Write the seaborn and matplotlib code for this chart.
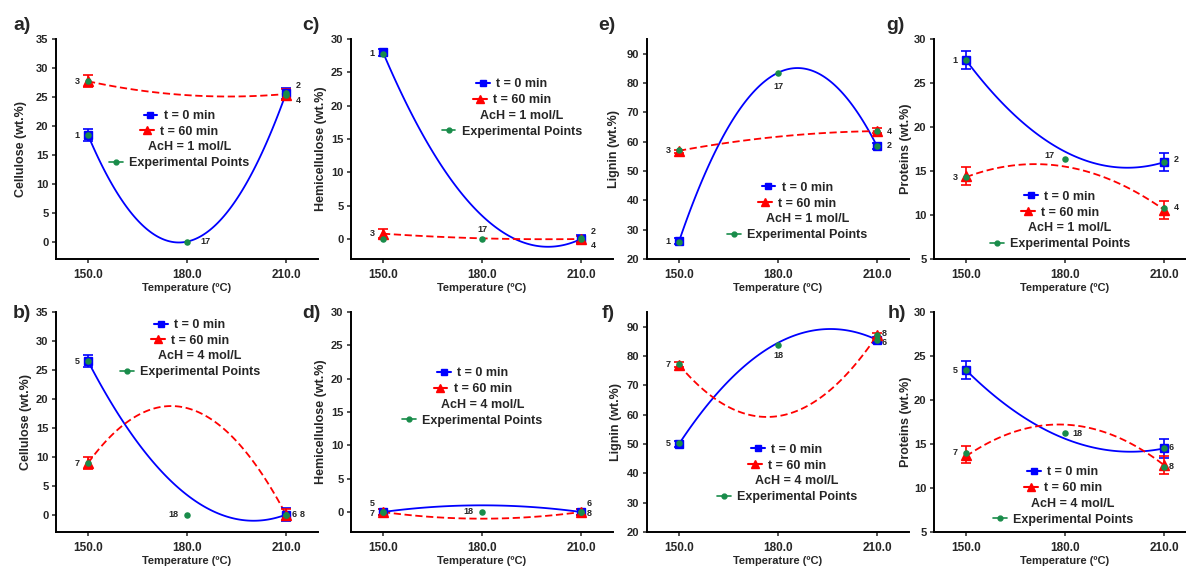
import numpy as np
import pandas as pd
import matplotlib
matplotlib.use("Agg")
import matplotlib.pyplot as plt
import seaborn as sns
from matplotlib.lines import Line2D
from matplotlib.ticker import StrMethodFormatter

sns.set_style("ticks")
plt.rcParams['font.family'] = ['Liberation Sans', 'DejaVu Sans']
plt.rcParams['font.weight'] = 'bold'
plt.rcParams['axes.labelweight'] = 'bold'
plt.rcParams['axes.linewidth'] = 1.4
plt.rcParams['axes.edgecolor'] = 'black'

# ---------------- data ----------------
temps = [150, 180, 210]          # temperatures of the model curves
end_temps = [150, 210]           # temperatures of the t = 0 / t = 60 runs
exp_temps = [150, 150, 180, 210, 210]

# a) Cellulose, AcH = 1 mol/L
a_curve_t0 = [18.4, 0.0, 25.6]
a_curve_t60 = [27.7, 25.3, 25.5]
a_mean_t0 = [18.4, 25.6]
a_err_t0 = [1.0, 1.0]
a_mean_t60 = [27.7, 25.4]
a_err_t60 = [1.05, 1.0]
a_exp = [18.4, 27.7, 0.0, 25.6, 25.4]
a_lab = ['1', '3', '17', '2', '4']

# b) Cellulose, AcH = 4 mol/L
b_curve_t0 = [26.5, 3.4, 0.0]
b_curve_t60 = [8.9, 18.4, 0.0]
b_mean_t0 = [26.5, 0.0]
b_err_t0 = [1.0, 1.1]
b_mean_t60 = [8.9, 0.0]
b_err_t60 = [1.0, 1.0]
b_exp = [26.5, 8.9, 0.0, 0.0, 0.0]
b_lab = ['5', '7', '18', '6', '8']

# c) Hemicellulose, AcH = 1 mol/L
c_curve_t0 = [28.0, 3.5, 0.0]
c_curve_t60 = [0.8, 0.1, 0.0]
c_mean_t0 = [28.0, 0.0]
c_err_t0 = [0.5, 0.6]
c_mean_t60 = [0.8, 0.0]
c_err_t60 = [0.7, 0.5]
c_exp = [27.8, 0.0, 0.0, 0.1, 0.0]
c_lab = ['1', '3', '17', '2', '4']

# d) Hemicellulose, AcH = 4 mol/L
d_curve_t0 = [0.0, 1.0, 0.0]
d_curve_t60 = [0.0, -1.0, 0.0]
d_mean_t0 = [0.0, 0.0]
d_err_t0 = [0.4, 0.4]
d_mean_t60 = [0.0, 0.0]
d_err_t60 = [0.4, 0.4]
d_exp = [0.0, 0.0, 0.0, 0.0, 0.0]
d_lab = ['5', '7', '18', '6', '8']

# e) Lignin, AcH = 1 mol/L
e_curve_t0 = [26.0, 83.5, 58.5]
e_curve_t60 = [56.9, 61.7, 63.6]
e_mean_t0 = [26.0, 58.5]
e_err_t0 = [1.0, 1.0]
e_mean_t60 = [56.8, 63.8]
e_err_t60 = [0.5, 0.8]
e_exp = [25.8, 57.0, 83.5, 63.6, 58.6]
e_lab = ['1', '3', '17', '4', '2']

# f) Lignin, AcH = 4 mol/L
f_curve_t0 = [50.0, 84.5, 85.5]
f_curve_t60 = [77.0, 59.5, 87.0]
f_mean_t0 = [50.0, 85.5]
f_err_t0 = [1.0, 1.0]
f_mean_t60 = [77.0, 87.0]
f_err_t60 = [0.8, 0.8]
f_exp = [50.2, 77.2, 83.8, 85.5, 87.3]
f_lab = ['5', '7', '18', '6', '8']

# g) Proteins, AcH = 1 mol/L
g_curve_t0 = [27.6, 17.2, 16.0]
g_curve_t60 = [14.3, 15.5, 10.6]
g_mean_t0 = [27.6, 16.0]
g_err_t0 = [1.05, 1.05]
g_mean_t60 = [14.4, 10.6]
g_err_t60 = [1.0, 1.0]
g_exp = [27.6, 14.3, 16.4, 16.0, 10.8]
g_lab = ['1', '3', '17', '2', '4']

# h) Proteins, AcH = 4 mol/L
h_curve_t0 = [23.4, 15.6, 14.5]
h_curve_t60 = [13.6, 17.2, 12.6]
h_mean_t0 = [23.4, 14.5]
h_err_t0 = [1.05, 1.05]
h_mean_t60 = [13.8, 12.6]
h_err_t60 = [1.0, 1.0]
h_exp = [23.4, 14.0, 16.2, 14.6, 12.4]
h_lab = ['5', '7', '18', '6', '8']

ylabels = {'cel': 'Cellulose (wt.%)', 'hem': 'Hemicellulose (wt.%)',
           'lig': 'Lignin (wt.%)', 'pro': 'Proteins (wt.%)'}
xlabel = 'Temperature (ºC)'
leg_labels = ['t = 0 min', 't = 60 min', None, 'Experimental Points']

panels = [
    dict(tag='a)', kind='cel', ach='AcH = 1 mol/L', c0=a_curve_t0, c60=a_curve_t60,
         m0=a_mean_t0, e0=a_err_t0, m60=a_mean_t60, e60=a_err_t60, exp=a_exp, lab=a_lab),
    dict(tag='c)', kind='hem', ach='AcH = 1 mol/L', c0=c_curve_t0, c60=c_curve_t60,
         m0=c_mean_t0, e0=c_err_t0, m60=c_mean_t60, e60=c_err_t60, exp=c_exp, lab=c_lab),
    dict(tag='e)', kind='lig', ach='AcH = 1 mol/L', c0=e_curve_t0, c60=e_curve_t60,
         m0=e_mean_t0, e0=e_err_t0, m60=e_mean_t60, e60=e_err_t60, exp=e_exp, lab=e_lab),
    dict(tag='g)', kind='pro', ach='AcH = 1 mol/L', c0=g_curve_t0, c60=g_curve_t60,
         m0=g_mean_t0, e0=g_err_t0, m60=g_mean_t60, e60=g_err_t60, exp=g_exp, lab=g_lab),
    dict(tag='b)', kind='cel', ach='AcH = 4 mol/L', c0=b_curve_t0, c60=b_curve_t60,
         m0=b_mean_t0, e0=b_err_t0, m60=b_mean_t60, e60=b_err_t60, exp=b_exp, lab=b_lab),
    dict(tag='d)', kind='hem', ach='AcH = 4 mol/L', c0=d_curve_t0, c60=d_curve_t60,
         m0=d_mean_t0, e0=d_err_t0, m60=d_mean_t60, e60=d_err_t60, exp=d_exp, lab=d_lab),
    dict(tag='f)', kind='lig', ach='AcH = 4 mol/L', c0=f_curve_t0, c60=f_curve_t60,
         m0=f_mean_t0, e0=f_err_t0, m60=f_mean_t60, e60=f_err_t60, exp=f_exp, lab=f_lab),
    dict(tag='h)', kind='pro', ach='AcH = 4 mol/L', c0=h_curve_t0, c60=h_curve_t60,
         m0=h_mean_t0, e0=h_err_t0, m60=h_mean_t60, e60=h_err_t60, exp=h_exp, lab=h_lab),
]

# ---------------- styles / layout ----------------
BLUE = '#0000ff'
RED = '#ff0000'
GREEN = '#198c4a'
ylims = {'cel': (-3, 35), 'hem': (-3, 30), 'lig': (20, 95), 'pro': (5, 30)}
yticks = {'cel': np.arange(0, 36, 5), 'hem': np.arange(0, 31, 5),
          'lig': np.arange(20, 91, 10), 'pro': np.arange(5, 31, 5)}

W, H = 1186, 569
col_left = [56, 351, 647, 934]
row_top = [39, 312]
ax_w, ax_h = 262, 220

# legend centre (axes fraction) per panel
leg_pos = {'a)': (0.47, 0.543), 'c)': (0.614, 0.686), 'e)': (0.573, 0.216), 'g)': (0.481, 0.175),
           'b)': (0.511, 0.834), 'd)': (0.464, 0.614), 'f)': (0.534, 0.266), 'h)': (0.492, 0.164)}
# ylabel anchor x (axes fraction)
ylab_x = {'a)': -0.111, 'c)': -0.092, 'e)': -0.103, 'g)': -0.084,
          'b)': -0.092, 'd)': -0.092, 'f)': -0.095, 'h)': -0.084}
# panel tag positions (pixels)
tag_pos = {'a)': (13, 25), 'c)': (302, 25), 'e)': (598, 25), 'g)': (886, 25),
           'b)': (13, 313), 'd)': (302, 313), 'f)': (602, 313), 'h)': (888, 313)}
# point-number offsets (points), in the order of the experimental points
lab_off = {
    'a)': [(-8, 0), (-8, 0), (13, 0), (9, 6), (9, -4)],
    'c)': [(-8, 0), (-8, 4), (0, 7), (9, 5), (9, -5)],
    'e)': [(-8, 0), (-8, 0), (0, -10), (9, 0), (9, 0)],
    'g)': [(-8, 0), (-8, 0), (-11, 2), (9, 2), (9, 0)],
    'b)': [(-8, 0), (-8, 0), (-10, 0), (6, 0), (12, 0)],
    'd)': [(-8, 6), (-8, -1), (-10, 0), (6, 6), (6, -1)],
    'f)': [(-8, 0), (-8, 0), (0, -8), (5, -2), (5, 1)],
    'h)': [(-8, 0), (-8, 0), (9, 0), (5, 0), (5, 0)],
}

fig = plt.figure(figsize=(W / 100, H / 100), dpi=100)

for i, p in enumerate(panels):
    r, c = divmod(i, 4)
    left = col_left[c] / W
    bottom = 1 - (row_top[r] + ax_h) / H
    ax = fig.add_axes([left, bottom, ax_w / W, ax_h / H])

    # model curves (quadratic through the three temperature levels)
    sns.regplot(x=temps, y=p['c0'], order=2, ci=None, scatter=False, ax=ax,
                color=BLUE, line_kws=dict(lw=1.3, ls='-', zorder=2))
    sns.regplot(x=temps, y=p['c60'], order=2, ci=None, scatter=False, ax=ax,
                color=RED, line_kws=dict(lw=1.3, ls=(0, (4, 2)), zorder=2))

    # run means with error bars
    ax.errorbar(end_temps, p['m0'], yerr=p['e0'], fmt='s', color=BLUE, ms=6,
                mec=BLUE, capsize=3.8, elinewidth=1.2, capthick=1.2, zorder=3)
    ax.errorbar(end_temps, p['m60'], yerr=p['e60'], fmt='^', color=RED, ms=6.5,
                mec=RED, capsize=3.8, elinewidth=1.2, capthick=1.2, zorder=3)

    # experimental points
    sns.scatterplot(x=exp_temps, y=p['exp'], color=GREEN, s=22, linewidth=0,
                    zorder=5, ax=ax, legend=False)
    for T, v, lab, off in zip(exp_temps, p['exp'], p['lab'], lab_off[p['tag']]):
        ax.annotate(lab, (T, v), xytext=off, textcoords='offset points',
                    ha='center', va='center', fontsize=6.5, fontweight='bold')

    # axes
    ax.set_xlim(140.3, 219.7)
    ax.set_ylim(*ylims[p['kind']])
    ax.set_xticks(temps)
    ax.set_yticks(yticks[p['kind']])
    ax.xaxis.set_major_formatter(StrMethodFormatter('{x:.1f}'))
    ax.tick_params(axis='x', labelsize=8.5, length=3, width=1.1, pad=4)
    ax.tick_params(axis='y', labelsize=8, length=3, width=1.1, pad=2.5)
    for t in ax.get_xticklabels() + ax.get_yticklabels():
        t.set_fontweight('bold')
    sns.despine(ax=ax)
    ax.set_xlabel(xlabel, fontsize=8, fontweight='bold', labelpad=2)
    ax.set_ylabel(ylabels[p['kind']], fontsize=9, fontweight='bold')
    ax.yaxis.set_label_coords(ylab_x[p['tag']], 0.5)

    # legend
    handles = [
        Line2D([], [], color=BLUE, marker='s', ms=5, lw=1.5),
        Line2D([], [], color=RED, marker='^', ms=6, lw=1.5),
        Line2D([], [], linestyle='none', marker=None),
        Line2D([], [], color=GREEN, marker='o', ms=3.5, lw=1.2),
    ]
    labels = [leg_labels[0], leg_labels[1], p['ach'], leg_labels[3]]
    leg = ax.legend(handles, labels, loc='center', bbox_to_anchor=leg_pos[p['tag']],
                    frameon=False, prop={'weight': 'bold', 'size': 9},
                    handlelength=1.1, handletextpad=0.5, labelspacing=0.3,
                    borderpad=0, borderaxespad=0)
    for col in leg._legend_handle_box.get_children():
        col.align = 'center'

    tx, ty = tag_pos[p['tag']]
    fig.text(tx / W, 1 - ty / H, p['tag'], fontsize=14, fontweight='bold',
             ha='left', va='center')

fig.savefig('out.png', dpi=100)
